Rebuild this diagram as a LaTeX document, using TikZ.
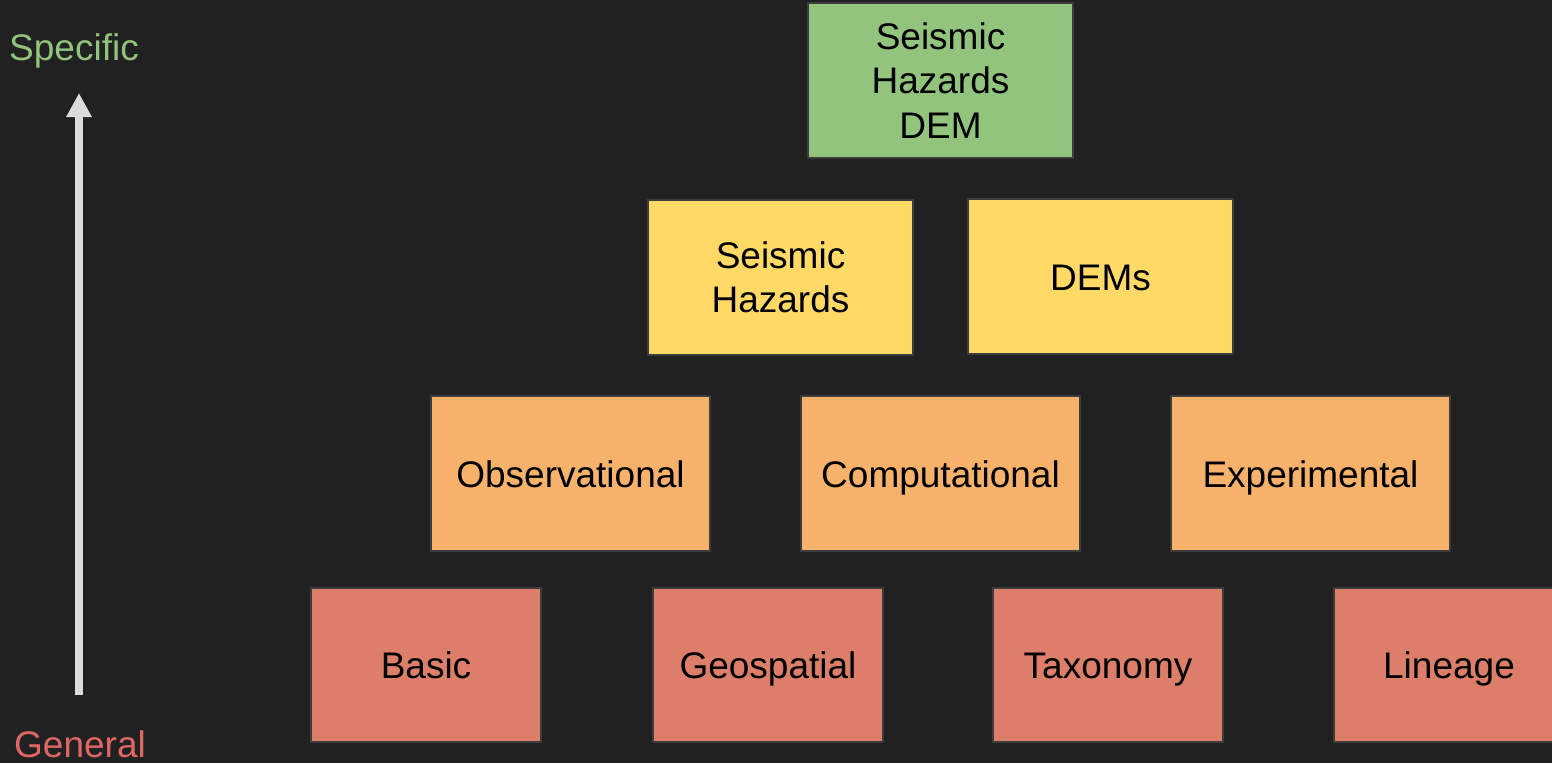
\documentclass[tikz,border=0pt]{standalone}
\usepackage{fontspec}
\setmainfont{Liberation Sans}
\usetikzlibrary{arrows.meta}

\definecolor{bgdark}{HTML}{212121}
\definecolor{edgegray}{HTML}{3C3C3C}
\definecolor{lvlgreen}{HTML}{93C47D}
\definecolor{lvlyellow}{HTML}{FFD966}
\definecolor{lvlorange}{HTML}{F6B26B}
\definecolor{lvlred}{HTML}{DD7E6B}
\definecolor{txtred}{HTML}{E06666}
\definecolor{arrowgray}{HTML}{DCDCDC}

\tikzset{
  level/.style={draw=edgegray, line width=2pt, align=center, inner sep=0pt,
    font=\fontsize{37}{44.4}\selectfont, text=black},
  oneline/.style={text height=27pt, text depth=0pt},
  wide/.style={level, minimum width=265pt, minimum height=155pt},
  wider/.style={level, oneline, minimum width=279pt, minimum height=155pt},
  narrow/.style={level, oneline, minimum width=230pt, minimum height=154pt},
  sidelabel/.style={font=\fontsize{37}{44.4}\selectfont, inner sep=0pt, anchor=base}
}

\begin{document}
\begin{tikzpicture}[x=1pt, y=-1pt]
    \fill[bgdark] (0,0) rectangle (1552,763);
    \useasboundingbox (0,0) rectangle (1552,763);
    % top
    \node[wide, fill=lvlgreen] (hazdem) at (940.5,80.5) {Seismic\\Hazards\\DEM};
    % second row
    \node[wide, fill=lvlyellow] (hazards) at (780.5,277.5) {Seismic\\Hazards};
    \node[wide, oneline, fill=lvlyellow] (dems) at (1100.5,276.5) {DEMs};
    % third row
    \node[wider, fill=lvlorange] (observ) at (570.5,473.5) {Observational};
    \node[wider, fill=lvlorange] (comput) at (940.5,473.5) {Computational};
    \node[wider, fill=lvlorange] (experim) at (1310.5,473.5) {Experimental};
    % bottom row
    \node[narrow, fill=lvlred] (basic) at (426,665) {Basic};
    \node[narrow, fill=lvlred] (geosp) at (768,665) {Geospatial};
    \node[narrow, fill=lvlred] (taxon) at (1108,665) {Taxonomy};
    \node[narrow, fill=lvlred] (lineage) at (1449,665) {Lineage};
    % scale on the left
    \node[sidelabel, text=lvlgreen] (specific) at (74,60) {Specific};
    \node[sidelabel, text=txtred] (general) at (80,757) {General};
    \coordinate (low) at (79,695);
    \coordinate (high) at (79,93);
    \draw[arrowgray, line width=8pt, -{Triangle[width=24pt,length=24pt]}] (low) -- (high);
  \end{tikzpicture}
\end{document}
